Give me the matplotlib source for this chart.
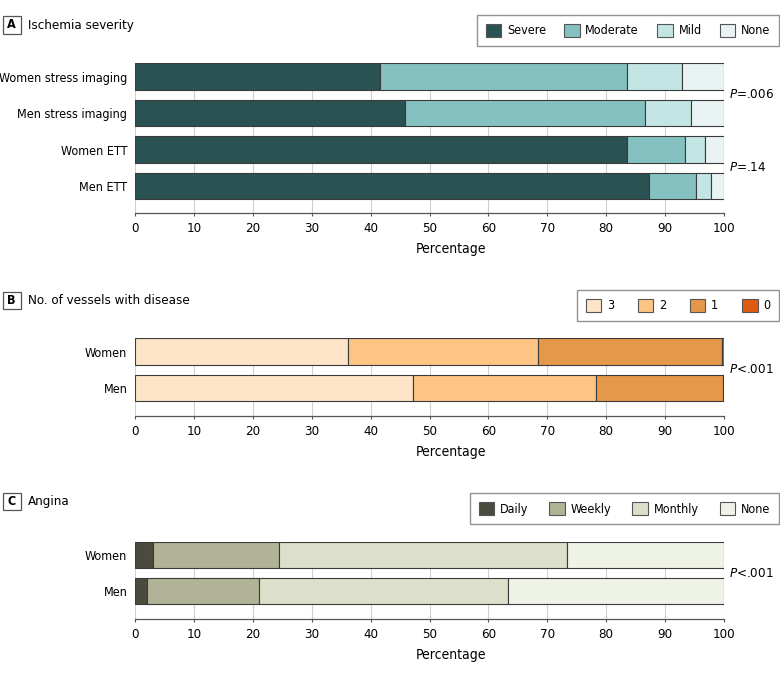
import matplotlib
matplotlib.use('Agg')
import matplotlib.pyplot as plt
from matplotlib.patches import Patch, Rectangle
import numpy as np

plt.rcParams['font.family'] = ['DejaVu Sans']
plt.rcParams['font.stretch'] = 'condensed'

# ---------------- data ----------------
a_groups = ['Women stress imaging', 'Men stress imaging', 'Women ETT', 'Men ETT']
a_levels = ['Severe', 'Moderate', 'Mild', 'None']
a_severe = [41.6, 45.8, 83.6, 87.3]
a_moderate = [42.0, 40.8, 9.8, 7.9]
a_mild = [9.3, 7.8, 3.4, 2.6]
a_none = [7.1, 5.6, 3.2, 2.2]
a_colors = ['#2a5253', '#84c1c0', '#c3e6e5', '#e9f3f4']
a_pvals = ['=.006', '=.14']

b_groups = ['Women', 'Men']
b_levels = ['3', '2', '1', '0']
b_3 = [36.1, 47.2]
b_2 = [32.4, 31.1]
b_1 = [31.2, 21.5]
b_0 = [0.3, 0.2]
b_colors = ['#fde3c8', '#fdc584', '#e6984a', '#e05a10']
b_pval = '<.001'

c_groups = ['Women', 'Men']
c_levels = ['Daily', 'Weekly', 'Monthly', 'None']
c_daily = [3.0, 2.0]
c_weekly = [21.5, 19.1]
c_monthly = [48.8, 42.3]
c_none = [26.7, 36.6]
c_colors = ['#4a4a3e', '#b1b396', '#dcdfca', '#eff2e6']
c_pval = '<.001'

xticks = [0, 10, 20, 30, 40, 50, 60, 70, 80, 90, 100]
xlabel = 'Percentage'

W, H = 780, 674
fig = plt.figure(figsize=(W / 100, H / 100), dpi=100)


def fx(x):
    return x / W


def fy(y):
    return 1 - y / H


def make_axes(top, bottom, left=135, right=724):
    return fig.add_axes([fx(left), fy(bottom), (right - left) / W, (bottom - top) / H])


def draw_panel(ax, groups, series, colors, ylo):
    n = len(groups)
    ypos = np.arange(n)[::-1]
    left = np.zeros(n)
    for vals, col in zip(series, colors):
        ax.barh(ypos, vals, left=left, height=0.73, color=col,
                edgecolor='#3a3a3a', linewidth=0.8, zorder=3)
        left = left + np.array(vals)
    ax.set_xlim(0, 100)
    ax.set_ylim(ylo, n - 1 + 0.365)
    ax.set_yticks(ypos)
    ax.set_yticklabels(groups, fontsize=9)
    ax.set_xticks(xticks)
    ax.set_xticklabels([str(t) for t in xticks], fontsize=9.5)
    ax.tick_params(axis='y', length=0, pad=5.5)
    ax.tick_params(axis='x', length=2.5, color='#555555', pad=4)
    ax.grid(axis='x', color='#d0d0d0', linewidth=0.8, zorder=0)
    for s in ['top', 'right', 'left']:
        ax.spines[s].set_visible(False)
    ax.spines['bottom'].set_color('#555555')
    ax.spines['bottom'].set_linewidth(0.9)
    ax.annotate(xlabel, xy=((451 - 135) / 589, 0), xycoords='axes fraction',
                xytext=(0, -36), textcoords='offset pixels',
                ha='center', va='center', fontsize=10)


def panel_title(letter, title, yc):
    fig.patches.append(Rectangle((fx(3), fy(yc + 8.5)), 17.5 / W, 17 / H,
                                 transform=fig.transFigure, facecolor='white',
                                 edgecolor='#555555', linewidth=0.9))
    fig.text(fx(11.75), fy(yc), letter, fontsize=9, fontweight='bold', ha='center', va='center')
    fig.text(fx(28), fy(yc), title, fontsize=9.5, ha='left', va='center')


def legend(levels, colors, x0, y0, x1, y1):
    handles = [Patch(facecolor=c, edgecolor='#555555', linewidth=0.8, label=l)
               for l, c in zip(levels, colors)]
    lg = fig.legend(handles=handles, ncol=len(levels), loc='center',
                    bbox_to_anchor=(fx(x0), fy(y1), (x1 - x0) / W, (y1 - y0) / H),
                    fontsize=9, frameon=True, fancybox=False, edgecolor='#777777',
                    handlelength=1.24, handleheight=1.24, handletextpad=0.45,
                    columnspacing=1.0, borderpad=0.7, borderaxespad=0, mode='expand')
    lg.get_frame().set_linewidth(1.0)
    return lg


def pval(txt, y):
    fig.text(fx(729), fy(y), r'$\it{P}$' + txt, fontsize=9.5, ha='left', va='center',
             math_fontfamily='dejavusans')


# Panel A
axA = make_axes(63.3, 213.3)
draw_panel(axA, a_groups, [a_severe, a_moderate, a_mild, a_none], a_colors, -0.75)
panel_title('A', 'Ischemia severity', 25)
legend(a_levels, a_colors, 477, 13.3, 779, 47.7)
pval(a_pvals[0], 95)
pval(a_pvals[1], 167)

# Panel B
axB = make_axes(338.3, 415.7)
draw_panel(axB, b_groups, [b_3, b_2, b_1, b_0], b_colors, -0.77)
panel_title('B', 'No. of vessels with disease', 300)
legend(b_levels, b_colors, 577, 288.3, 779, 322.7)
pval(b_pval, 369.3)

# Panel C
axC = make_axes(541.7, 619)
draw_panel(axC, c_groups, [c_daily, c_weekly, c_monthly, c_none], c_colors, -0.77)
panel_title('C', 'Angina', 501.5)
legend(c_levels, c_colors, 470, 491.7, 779, 525.7)
pval(c_pval, 573.3)

fig.savefig('out.png', dpi=100)
